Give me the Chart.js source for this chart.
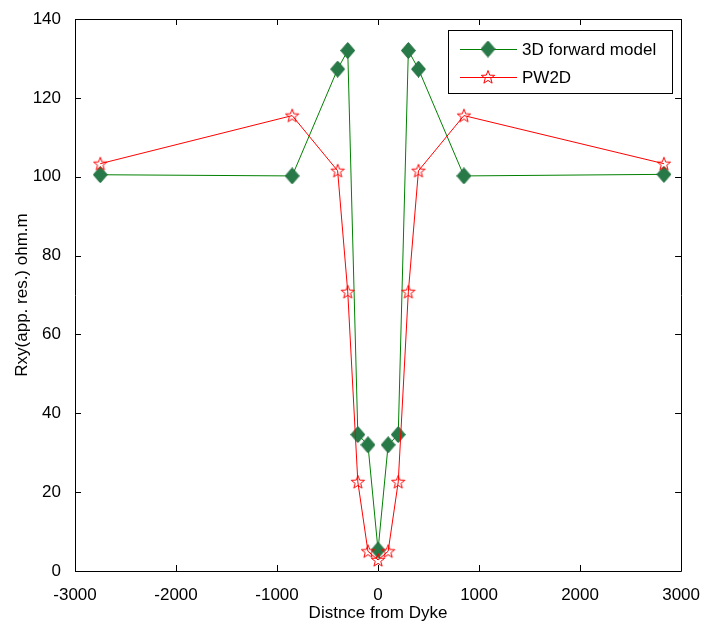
<!DOCTYPE html>
<html>
<head>
<meta charset="utf-8">
<script src="https://cdn.jsdelivr.net/npm/chart.js@4.4.1/dist/chart.umd.min.js"></script>
<style>
html, body { margin: 0; padding: 0; background: #fff; }
#rxy-chart { display: block; }
</style>
</head>
<body>
<canvas id="rxy-chart" width="706" height="628"></canvas>
<script>
// values
const distances = [-2750, -850, -400, -300, -200, -100, 0, 100, 200, 300, 400, 850, 2830];
const forwardModel = [100.5, 100.2, 127.3, 132, 34.6, 32, 5.3, 32, 34.6, 132, 127.3, 100.2, 100.6];
const pw2d = [103.3, 115.5, 101.5, 70.8, 22.6, 5, 2.8, 5, 22.6, 70.8, 101.5, 115.5, 103.3];
const xTicks = [-3000, -2000, -1000, 0, 1000, 2000, 3000];
const yTicks = [0, 20, 40, 60, 80, 100, 120, 140];
const seriesNames = ["3D forward model", "PW2D"];

const font = "'Liberation Sans', Arial, sans-serif";

function makeDiamond() {
    const c = document.createElement("canvas");
    c.width = 15; c.height = 17;
    const g = c.getContext("2d");
    g.beginPath();
    g.moveTo(7.5, 0.5); g.lineTo(14.5, 8.5); g.lineTo(7.5, 16.5); g.lineTo(0.5, 8.5);
    g.closePath();
    g.fillStyle = "#277a47";
    g.fill();
    g.strokeStyle = "#1e6e3c";
    g.lineWidth = 1;
    g.stroke();
    return c;
}

function makeStar() {
    const c = document.createElement("canvas");
    c.width = 16; c.height = 16;
    const g = c.getContext("2d");
    g.beginPath();
    for (let i = 0; i < 10; i++) {
        let r = i % 2 === 0 ? 7 : 2.9;
        let a = -Math.PI / 2 + i * Math.PI / 5;
        let px = 8 + r * Math.cos(a), py = 8.5 + r * Math.sin(a);
        if (i === 0) g.moveTo(px, py); else g.lineTo(px, py);
    }
    g.closePath();
    g.strokeStyle = "#ff0000";
    g.lineWidth = 1;
    g.stroke();
    return c;
}

const diamond = makeDiamond();
const star = makeStar();

// box round the plot, ticks pointing inwards, legend inside
const frame = {
    id: "frame",
    afterDraw(chart) {
        const ctx = chart.ctx;
        const a = chart.chartArea;
        const xs = chart.scales.x, ys = chart.scales.y;
        ctx.save();
        ctx.strokeStyle = "#000";
        ctx.lineWidth = 1;
        ctx.beginPath();
        ctx.rect(Math.round(a.left) + 0.5, Math.round(a.top) + 0.5,
                 Math.round(a.right - a.left), Math.round(a.bottom - a.top));
        ctx.stroke();
        ctx.beginPath();
        xTicks.forEach(v => {
            let px = Math.round(xs.getPixelForValue(v)) + 0.5;
            ctx.moveTo(px, a.bottom); ctx.lineTo(px, a.bottom - 6);
            ctx.moveTo(px, a.top); ctx.lineTo(px, a.top + 6);
        });
        yTicks.forEach(v => {
            let py = Math.round(ys.getPixelForValue(v)) + 0.5;
            ctx.moveTo(a.left, py); ctx.lineTo(a.left + 6, py);
            ctx.moveTo(a.right, py); ctx.lineTo(a.right - 6, py);
        });
        ctx.stroke();

        // legend
        const bx = 448.5, by = 30.5, bw = 224, bh = 63;
        ctx.fillStyle = "#fff";
        ctx.fillRect(bx, by, bw, bh);
        ctx.strokeStyle = "#000";
        ctx.strokeRect(bx, by, bw, bh);
        const rows = [49, 77];
        chart.data.datasets.forEach((ds, i) => {
            let y = rows[i];
            ctx.strokeStyle = ds.borderColor;
            ctx.lineWidth = 1;
            ctx.beginPath();
            ctx.moveTo(460, y + 0.5); ctx.lineTo(517, y + 0.5);
            ctx.stroke();
            let img = ds.pointStyle;
            ctx.drawImage(img, 488 - img.width / 2, y - img.height / 2);
            ctx.fillStyle = "#000";
            ctx.font = "17px " + font;
            ctx.textBaseline = "middle";
            ctx.textAlign = "left";
            ctx.fillText(ds.label, 522, y + 1);
        });
        ctx.restore();
    }
};

const ctx = document.getElementById("rxy-chart").getContext("2d");

const rxyChart = new Chart(ctx, {
    type: "line",
    data: {
        datasets: [
            {
                label: seriesNames[0],
                data: distances.map((d, i) => ({ x: d, y: forwardModel[i] })),
                borderColor: "#008000",
                borderWidth: 1,
                pointStyle: diamond,
                order: 1,
                tension: 0
            },
            {
                label: seriesNames[1],
                data: distances.map((d, i) => ({ x: d, y: pw2d[i] })),
                borderColor: "#ff0000",
                borderWidth: 1,
                pointStyle: star,
                order: 0,
                tension: 0
            }
        ]
    },
    options: {
        responsive: false,
        animation: false,
        layout: { padding: { left: 0, right: 19, top: 19, bottom: 0 } },
        plugins: {
            legend: { display: false },
            tooltip: { enabled: false }
        },
        scales: {
            x: {
                type: "linear",
                min: -3000,
                max: 3000,
                afterBuildTicks: s => { s.ticks = xTicks.map(v => ({ value: v })); },
                afterFit: s => { s.height = 57; },
                grid: { display: false },
                border: { display: false },
                ticks: {
                    padding: 6,
                    maxRotation: 0,
                    color: "#000",
                    font: { family: font, size: 17 },
                    callback: v => String(v)
                },
                title: {
                    display: true,
                    text: "Distnce from Dyke",
                    color: "#000",
                    font: { family: font, size: 17 },
                    padding: { top: 0, bottom: 4 }
                }
            },
            y: {
                type: "linear",
                min: 0,
                max: 140,
                afterBuildTicks: s => { s.ticks = yTicks.map(v => ({ value: v })); },
                afterFit: s => { s.width = 75; },
                grid: { display: false },
                border: { display: false },
                ticks: {
                    padding: 6,
                    color: "#000",
                    font: { family: font, size: 17 },
                    callback: v => String(v)
                },
                title: {
                    display: true,
                    text: "Rxy(app. res.) ohm.m",
                    color: "#000",
                    font: { family: font, size: 17 },
                    padding: { top: 12, bottom: 0 }
                }
            }
        }
    },
    plugins: [frame]
});
</script>
</body>
</html>
